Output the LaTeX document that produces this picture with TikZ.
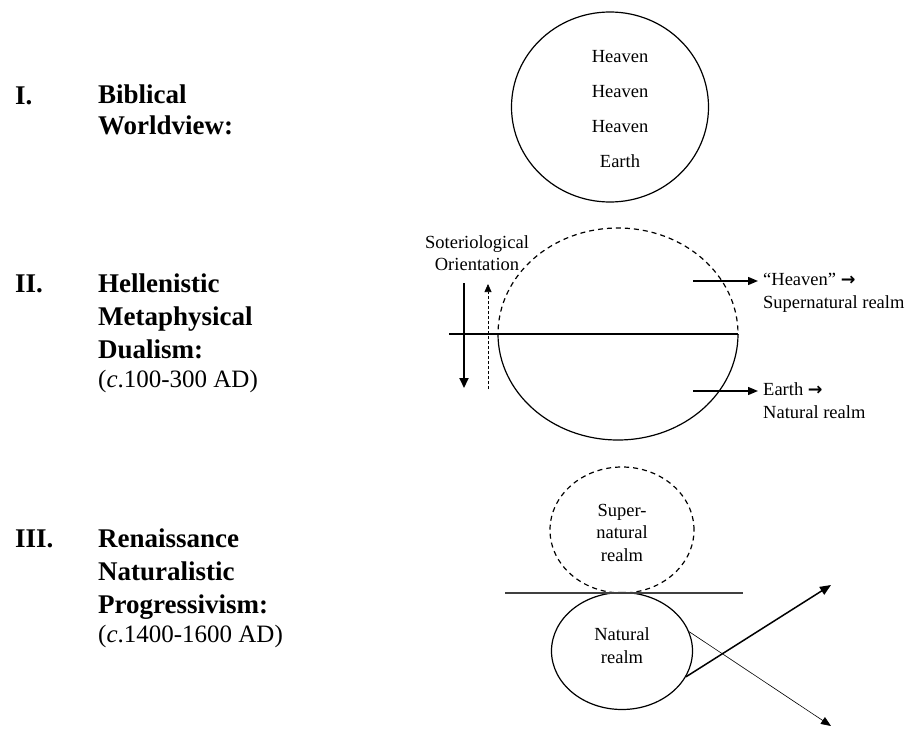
\documentclass[tikz,border=0pt]{standalone}
\usepackage{fontspec}
\setmainfont{Liberation Serif}
\newfontfamily\arrowfont{DejaVu Sans}
\newcommand{\realmarrow}{{\arrowfont\bfseries\fontsize{17.5}{17.5}\selectfont →}}
\usetikzlibrary{arrows.meta,shapes.geometric}
\begin{document}
\begin{tikzpicture}[x=1pt,y=-1pt,
  numeral/.style={anchor=base west, inner sep=0, font=\fontsize{27}{33}\selectfont\bfseries},
  heading/.style={anchor=base west, inner sep=0, font=\fontsize{27}{33}\selectfont\bfseries},
  small/.style={inner sep=0, font=\fontsize{18.5}{22.5}\selectfont},
  realm/.style={ellipse, draw, line width=1.2pt, inner sep=0},
  dashline/.style={dash pattern=on 5pt off 4pt},
  pointer/.style={line width=1.4pt, -{Triangle[length=10pt,width=8pt]}},
]
\useasboundingbox (0,0) rectangle (918,730);

% ---------- I. Biblical worldview ----------
\node[numeral] (n1) at (15,105) {I.};
\node[heading] (h1) at (98,104) {\begin{tabular}[t]{@{}l@{}}Biblical\\[-2pt]Worldview:\end{tabular}};
\node[realm, minimum width=197pt, minimum height=190pt] (bib) at (610,107) {};
\node[small, anchor=base] (bibtxt) at (620,63)
  {\fontsize{18.5}{34.7}\selectfont\begin{tabular}[t]{@{}c@{}}Heaven\\Heaven\\Heaven\\Earth\end{tabular}};

% ---------- II. Hellenistic dualism ----------
\node[numeral] (n2) at (15,292) {II.};
\node[heading] (h2) at (98,292) {\begin{tabular}[t]{@{}l@{}}Hellenistic\\Metaphysical\\Dualism:\\[-4pt]
  \fontsize{25}{33}\selectfont\mdseries(\textit{c}.100-300 AD)\end{tabular}};

% upper (dashed) and lower (solid) halves of the split sphere
\begin{scope}
  \clip (400,150) rectangle (800,334);
  \draw[line width=1.2pt, dashline] (618,334) ellipse [x radius=120, y radius=106];
\end{scope}
\begin{scope}
  \clip (400,334) rectangle (800,500);
  \draw[line width=1.2pt] (618,334) ellipse [x radius=120, y radius=106];
\end{scope}
\coordinate (divL) at (449,334);
\coordinate (divA) at (498,334);
\coordinate (divR) at (738,334);
\draw[line width=1.2pt] (divL) -- (divR);
\draw[line width=2.4pt, dash pattern=on 4pt off 1.5pt] (divA) -- (divR);

% soteriological orientation
\node[small, anchor=base] (soter) at (477,248)
  {\fontsize{18.5}{22}\selectfont\begin{tabular}[t]{@{}c@{}}Soteriological\\Orientation\end{tabular}};
\coordinate (downS) at (464,283);
\coordinate (downE) at (464,388);
\coordinate (upS) at (488,389);
\coordinate (upE) at (488,284);
\draw[line width=2pt, -{Triangle[length=10pt,width=9pt]}] (downS) -- (downE);
\draw[line width=0.7pt, dash pattern=on 3pt off 2pt, -{Triangle[length=8pt,width=7pt]}] (upS) -- (upE);

% relabelling of the two halves
\coordinate (heavS) at (693,281);
\coordinate (heavE) at (758,281);
\coordinate (earthS) at (693,391);
\coordinate (earthE) at (758,391);
\draw[pointer] (heavS) -- (heavE);
\draw[pointer] (earthS) -- (earthE);
\node[small, anchor=base west] (heavtxt) at (763,285)
  {\fontsize{18.5}{23}\selectfont\begin{tabular}[t]{@{}l@{}}“Heaven” \realmarrow\\Supernatural realm\end{tabular}};
\node[small, anchor=base west] (earthtxt) at (763,395)
  {\fontsize{18.5}{23}\selectfont\begin{tabular}[t]{@{}l@{}}Earth \realmarrow\\Natural realm\end{tabular}};

% ---------- III. Renaissance progressivism ----------
\node[numeral] (n3) at (15,547) {III.};
\node[heading] (h3) at (98,547) {\begin{tabular}[t]{@{}l@{}}Renaissance\\Naturalistic\\Progressivism:\\[-4pt]
  \fontsize{25}{33}\selectfont\mdseries(\textit{c}.1400-1600 AD)\end{tabular}};

\node[realm, dashline, minimum width=144pt, minimum height=126pt] (super) at (622,530) {};
\node[realm, minimum width=141pt, minimum height=117pt] (nat) at (622,651) {};
\node[small, anchor=base] (supertxt) at (622,516)
  {\fontsize{18.5}{22.5}\selectfont\begin{tabular}[t]{@{}c@{}}Super-\\natural\\realm\end{tabular}};
\node[small, anchor=base] (nattxt) at (622,640)
  {\fontsize{18.5}{23}\selectfont\begin{tabular}[t]{@{}c@{}}Natural\\realm\end{tabular}};
\coordinate (horL) at (505,593);
\coordinate (horR) at (743,593);
\draw[line width=1.6pt, black!75] (horL) -- (horR);

\coordinate (upT) at (831,585);
\coordinate (dnT) at (831,726);
\draw[line width=1.5pt, -{Triangle[length=11pt,width=9pt]}] (nat.-22) -- (upT);
\draw[line width=0.6pt, -{Triangle[length=10pt,width=8pt]}] (nat.16) -- (dnT);
\end{tikzpicture}
\end{document}
